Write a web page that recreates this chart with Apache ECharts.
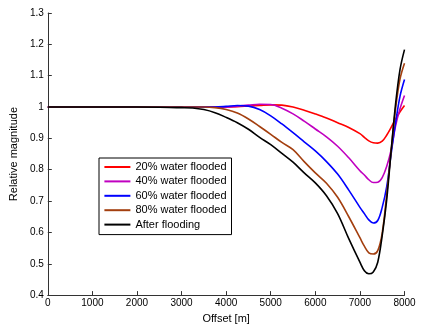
<!DOCTYPE html>
<html>
<head>
<meta charset="utf-8">
<script src="https://cdn.jsdelivr.net/npm/echarts@6/dist/echarts.min.js"></script>
<style>html,body{margin:0;padding:0;background:#fff}#c{width:422px;height:329px}</style>
</head>
<body>
<div id="c"></div>
<script>
var offsets = [0,1000,2000,3000,3250,3500,3750,4000,4250,4500,4750,5000,5250,5500,5750,6000,6250,6500,6750,7000,7100,7200,7300,7400,7500,7600,7700,7800,7900,8000];
var flooded20 = [1,1,1,1,1,1,1,1,1.001,1.003,1.005,1.007,1.006,1.0,0.990,0.978,0.965,0.950,0.935,0.915,0.903,0.892,0.886,0.885,0.891,0.910,0.935,0.962,0.985,1.005];
var flooded40 = [1,1,1,1,1,1,1,1,1.003,1.006,1.009,1.008,0.996,0.978,0.955,0.930,0.905,0.875,0.838,0.797,0.783,0.768,0.759,0.760,0.775,0.810,0.863,0.940,0.995,1.037];
var flooded60 = [1,1,1,1,1,1,1,1.002,1.005,1.003,0.992,0.972,0.946,0.918,0.889,0.860,0.826,0.786,0.735,0.680,0.660,0.640,0.630,0.638,0.680,0.745,0.850,0.950,1.035,1.088];
var flooded80 = [1,1,1,1,1,1,0.998,0.992,0.981,0.962,0.938,0.913,0.887,0.864,0.826,0.790,0.757,0.712,0.650,0.583,0.556,0.535,0.531,0.542,0.598,0.720,0.860,0.995,1.090,1.140];
var afterFlooding = [1,1,1,0.998,0.997,0.992,0.982,0.967,0.950,0.929,0.903,0.880,0.852,0.824,0.790,0.758,0.717,0.660,0.580,0.505,0.478,0.468,0.474,0.505,0.590,0.703,0.860,1.010,1.120,1.183];
var seriesNames = ['20% water flooded','40% water flooded','60% water flooded','80% water flooded','After flooding'];
var seriesColors = ['#ff0000','#c000c0','#0000ff','#a33f0f','#000000'];
var allData = [flooded20, flooded40, flooded60, flooded80, afterFlooding];

function pairs(ys){ return offsets.map(function(x,i){ return [x, ys[i]]; }); }

var chart = echarts.init(document.getElementById('c'), null, {renderer:'canvas'});
var font = 'Liberation Sans, Arial, sans-serif';
chart.setOption({
  animation: false,
  backgroundColor: '#fff',
  grid: {left: 47.5, right: 17.5, top: 13, bottom: 29.5, containLabel: false},
  legend: {
    orient: 'vertical', left: 99, top: 158,
    data: seriesNames,
    icon: 'rect', itemWidth: 26, itemHeight: 2, itemGap: 2.4,
    padding: [3, 5, 4, 5.4],
    borderColor: '#000', borderWidth: 1, backgroundColor: '#fff',
    textStyle: {fontFamily: font, fontSize: 11, color: '#000', lineHeight: 12}
  },
  xAxis: {
    type: 'value', min: 0, max: 8000, interval: 1000,
    name: 'Offset [m]', nameLocation: 'middle', nameGap: 17,
    nameTextStyle: {fontFamily: font, fontSize: 11, color: '#000'},
    axisLine: {onZero: false, lineStyle: {color: '#333', width: 1}},
    axisTick: {inside: true, length: 4, lineStyle: {color: '#333'}},
    axisLabel: {fontFamily: font, fontSize: 10, color: '#000', margin: 3,
      formatter: function(v){ return String(Math.round(v)); }},
    splitLine: {show: false}
  },
  yAxis: {
    type: 'value', min: 0.4, max: 1.3, interval: 0.1,
    name: 'Relative magnitude', nameLocation: 'middle', nameGap: 24,
    nameTextStyle: {fontFamily: font, fontSize: 11, color: '#000'},
    axisLine: {show: true, onZero: false, lineStyle: {color: '#333', width: 1}},
    axisTick: {show: true, inside: true, length: 4, lineStyle: {color: '#333'}},
    axisLabel: {fontFamily: font, fontSize: 10, color: '#000', margin: 4,
      formatter: function(v){ return String(Math.round(v*10)/10); }},
    splitLine: {show: false}
  },
  series: allData.map(function(d, i){
    return {
      name: seriesNames[i], type: 'line', data: pairs(d),
      showSymbol: false, symbol: 'none', smooth: 0.35,
      lineStyle: {color: seriesColors[i], width: 1.6},
      itemStyle: {color: seriesColors[i]}
    };
  })
});
</script>
</body>
</html>
